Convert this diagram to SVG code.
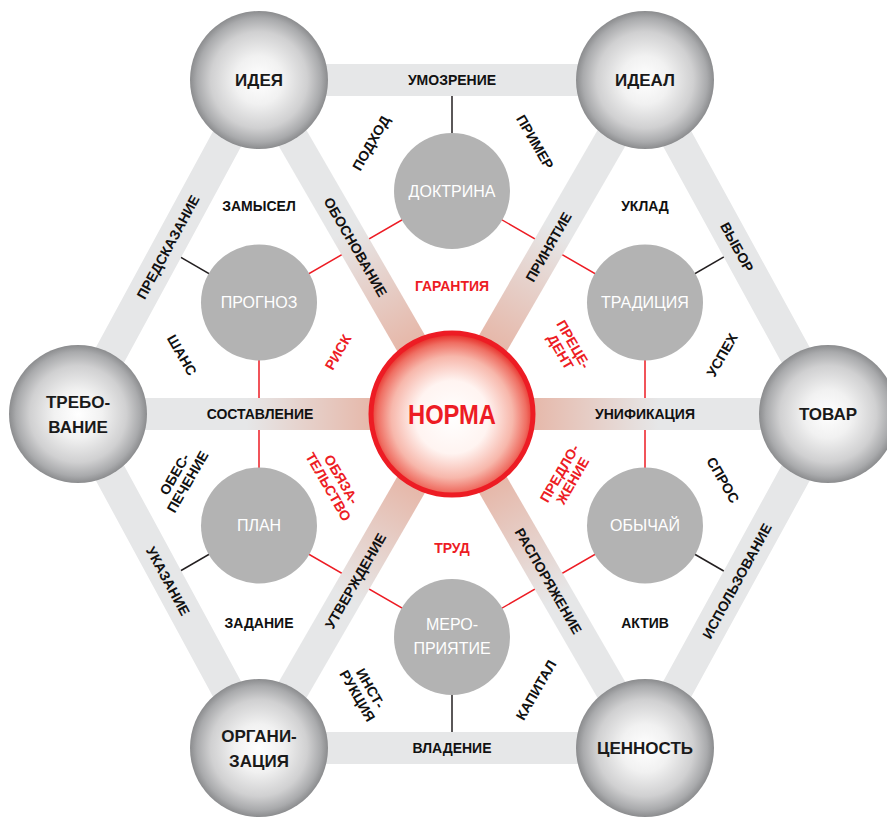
<svg xmlns="http://www.w3.org/2000/svg" width="887" height="819" viewBox="0 0 887 819">
<defs>
<radialGradient id="sphere" cx="50%" cy="50%" r="50%">
<stop offset="0" stop-color="#ffffff"/>
<stop offset="0.35" stop-color="#f1f1f1"/>
<stop offset="0.7" stop-color="#d0d0d1"/>
<stop offset="0.9" stop-color="#a9aaac"/>
<stop offset="1" stop-color="#8b8c8e"/>
</radialGradient>
<radialGradient id="norma" cx="50%" cy="52%" r="50%">
<stop offset="0" stop-color="#ffffff"/>
<stop offset="0.45" stop-color="#fff4f1"/>
<stop offset="0.75" stop-color="#f7b7ab"/>
<stop offset="0.92" stop-color="#ef6e62"/>
<stop offset="1" stop-color="#e93a33"/>
</radialGradient>
<linearGradient id="gA" gradientUnits="userSpaceOnUse" x1="259" y1="80" x2="452" y2="414"><stop offset="0" stop-color="#e6e7e8"/><stop offset="0.45" stop-color="#e6e7e8"/><stop offset="1" stop-color="#e69a82"/></linearGradient>
<linearGradient id="gB" gradientUnits="userSpaceOnUse" x1="645" y1="80" x2="452" y2="414"><stop offset="0" stop-color="#e6e7e8"/><stop offset="0.45" stop-color="#e6e7e8"/><stop offset="1" stop-color="#e69a82"/></linearGradient>
<linearGradient id="gC" gradientUnits="userSpaceOnUse" x1="78" y1="414" x2="452" y2="414"><stop offset="0" stop-color="#e6e7e8"/><stop offset="0.45" stop-color="#e6e7e8"/><stop offset="1" stop-color="#e69a82"/></linearGradient>
<linearGradient id="gD" gradientUnits="userSpaceOnUse" x1="828" y1="414" x2="452" y2="414"><stop offset="0" stop-color="#e6e7e8"/><stop offset="0.45" stop-color="#e6e7e8"/><stop offset="1" stop-color="#e69a82"/></linearGradient>
<linearGradient id="gE" gradientUnits="userSpaceOnUse" x1="259" y1="748" x2="452" y2="414"><stop offset="0" stop-color="#e6e7e8"/><stop offset="0.45" stop-color="#e6e7e8"/><stop offset="1" stop-color="#e69a82"/></linearGradient>
<linearGradient id="gF" gradientUnits="userSpaceOnUse" x1="645" y1="748" x2="452" y2="414"><stop offset="0" stop-color="#e6e7e8"/><stop offset="0.45" stop-color="#e6e7e8"/><stop offset="1" stop-color="#e69a82"/></linearGradient>
<style>
text{font-family:"Liberation Sans",Arial,sans-serif;text-anchor:middle;dominant-baseline:central}
.edge{stroke:#e6e7e8;stroke-width:32;fill:none}
.spoke{stroke-width:32;fill:none}
.red{stroke:#ed1c24;stroke-width:1.5;fill:none}
.blk{stroke:#231f20;stroke-width:1.5;fill:none}
.outer{fill:url(#sphere)}
.inner{fill:#b3b3b3}
.nt{font-size:17px;font-weight:bold;fill:#1a1a1a}
.it{font-size:16px;fill:#ffffff}
.lb{font-size:14px;font-weight:bold;fill:#111111}
.rd{font-size:14px;font-weight:bold;fill:#ed1c24}
</style>
</defs>
<rect width="887" height="819" fill="#ffffff"/>
<g id="connectors">
<polygon class="red" points="452,191 259,302.5 259,525.5 452,637 645,525.5 645,302.5"/>
<line class="blk" x1="452" y1="191" x2="452" y2="80"/>
<line class="blk" x1="259" y1="302.5" x2="163" y2="247"/>
<line class="blk" x1="645" y1="302.5" x2="741" y2="247"/>
<line class="blk" x1="259" y1="525.5" x2="163" y2="581"/>
<line class="blk" x1="645" y1="525.5" x2="741" y2="581"/>
<line class="blk" x1="452" y1="637" x2="452" y2="748"/>
</g>
<g id="bands">
<polyline class="edge" points="259,80 645,80 828,414 645,748 259,748 78,414 259,80"/>
<line class="spoke" stroke="url(#gA)" x1="259" y1="80" x2="452" y2="414"/>
<line class="spoke" stroke="url(#gB)" x1="645" y1="80" x2="452" y2="414"/>
<line class="spoke" stroke="url(#gC)" x1="78" y1="414" x2="452" y2="414"/>
<line class="spoke" stroke="url(#gD)" x1="828" y1="414" x2="452" y2="414"/>
<line class="spoke" stroke="url(#gE)" x1="259" y1="748" x2="452" y2="414"/>
<line class="spoke" stroke="url(#gF)" x1="645" y1="748" x2="452" y2="414"/>
</g>
<g id="band-labels">
<text class="lb" x="452" y="80">УМОЗРЕНИЕ</text>
<text class="lb" x="452" y="748">ВЛАДЕНИЕ</text>
<text class="lb" transform="translate(168,247) rotate(-61.5)">ПРЕДСКАЗАНИЕ</text>
<text class="lb" transform="translate(737,247) rotate(61.3)">ВЫБОР</text>
<text class="lb" transform="translate(168,581) rotate(61.5)">УКАЗАНИЕ</text>
<text class="lb" transform="translate(737,581) rotate(-61.3)">ИСПОЛЬЗОВАНИЕ</text>
<text class="lb" transform="translate(355.5,247) rotate(60)">ОБОСНОВАНИЕ</text>
<text class="lb" transform="translate(548.5,247) rotate(-60)">ПРИНЯТИЕ</text>
<text class="lb" x="260" y="414">СОСТАВЛЕНИЕ</text>
<text class="lb" x="645" y="414">УНИФИКАЦИЯ</text>
<text class="lb" transform="translate(355.5,581) rotate(-60)">УТВЕРЖДЕНИЕ</text>
<text class="lb" transform="translate(548.5,581) rotate(60)">РАСПОРЯЖЕНИЕ</text>
</g>
<g id="free-labels">
<text class="lb" transform="translate(371,143) rotate(-60)">ПОДХОД</text>
<text class="lb" transform="translate(535,142) rotate(60)">ПРИМЕР</text>
<text class="lb" x="259" y="206">ЗАМЫСЕЛ</text>
<text class="lb" x="645" y="206">УКЛАД</text>
<text class="lb" transform="translate(182,355) rotate(60)">ШАНС</text>
<text class="lb" transform="translate(722,355) rotate(-60)">УСПЕХ</text>
<text class="lb" transform="translate(181,478) rotate(-60)"><tspan x="0" y="-7.5">ОБЕС-</tspan><tspan x="0" y="7.5">ПЕЧЕНИЕ</tspan></text>
<text class="lb" transform="translate(723,480) rotate(60)">СПРОС</text>
<text class="lb" x="259" y="623">ЗАДАНИЕ</text>
<text class="lb" x="645" y="623">АКТИВ</text>
<text class="lb" transform="translate(364,692) rotate(60)"><tspan x="0" y="-7.5">ИНСТ-</tspan><tspan x="0" y="7.5">РУКЦИЯ</tspan></text>
<text class="lb" transform="translate(536,690) rotate(-60)">КАПИТАЛ</text>
<text class="rd" x="452" y="286">ГАРАНТИЯ</text>
<text class="rd" x="452" y="548">ТРУД</text>
<text class="rd" transform="translate(338,352) rotate(-60)">РИСК</text>
<text class="rd" transform="translate(567,348) rotate(60)"><tspan x="0" y="-7.5">ПРЕЦЕ-</tspan><tspan x="0" y="7.5">ДЕНТ</tspan></text>
<text class="rd" transform="translate(335,483) rotate(60)"><tspan x="0" y="-7.5">ОБЯЗА-</tspan><tspan x="0" y="7.5">ТЕЛЬСТВО</tspan></text>
<text class="rd" transform="translate(566,477) rotate(-60)"><tspan x="0" y="-7.5">ПРЕДЛО-</tspan><tspan x="0" y="7.5">ЖЕНИЕ</tspan></text>
</g>
<g id="node-idea"><circle class="outer" cx="259" cy="80" r="69"/><text class="nt" x="259" y="80">ИДЕЯ</text></g>
<g id="node-ideal"><circle class="outer" cx="645" cy="80" r="69"/><text class="nt" x="645" y="80">ИДЕАЛ</text></g>
<g id="node-trebovanie"><circle class="outer" cx="78" cy="414" r="69"/><text class="nt" x="78"><tspan x="78" y="402">ТРЕБО-</tspan><tspan x="78" y="427">ВАНИЕ</tspan></text></g>
<g id="node-tovar"><circle class="outer" cx="828" cy="414" r="69"/><text class="nt" x="828" y="414">ТОВАР</text></g>
<g id="node-organizacia"><circle class="outer" cx="259" cy="748" r="69"/><text class="nt"><tspan x="259" y="736">ОРГАНИ-</tspan><tspan x="259" y="761">ЗАЦИЯ</tspan></text></g>
<g id="node-cennost"><circle class="outer" cx="645" cy="748" r="69"/><text class="nt" x="645" y="748">ЦЕННОСТЬ</text></g>
<g id="node-doktrina"><circle class="inner" cx="452" cy="191" r="58"/><text class="it" x="452" y="191">ДОКТРИНА</text></g>
<g id="node-prognoz"><circle class="inner" cx="259" cy="302.5" r="58"/><text class="it" x="259" y="302.5">ПРОГНОЗ</text></g>
<g id="node-tradicia"><circle class="inner" cx="645" cy="302.5" r="58"/><text class="it" x="645" y="302.5">ТРАДИЦИЯ</text></g>
<g id="node-plan"><circle class="inner" cx="259" cy="525.5" r="58"/><text class="it" x="259" y="525.5">ПЛАН</text></g>
<g id="node-obychai"><circle class="inner" cx="645" cy="525.5" r="58"/><text class="it" x="645" y="525.5">ОБЫЧАЙ</text></g>
<g id="node-meropriyatie"><circle class="inner" cx="452" cy="637" r="58"/><text class="it"><tspan x="452" y="624">МЕРО-</tspan><tspan x="452" y="648">ПРИЯТИЕ</tspan></text></g>
<g id="node-norma"><circle cx="452" cy="414" r="81" fill="url(#norma)" stroke="#ed1c24" stroke-width="5"/><text x="452" y="414" font-size="28" font-weight="bold" fill="#ed1c24" textLength="88" lengthAdjust="spacingAndGlyphs">НОРМА</text></g>
</svg>
